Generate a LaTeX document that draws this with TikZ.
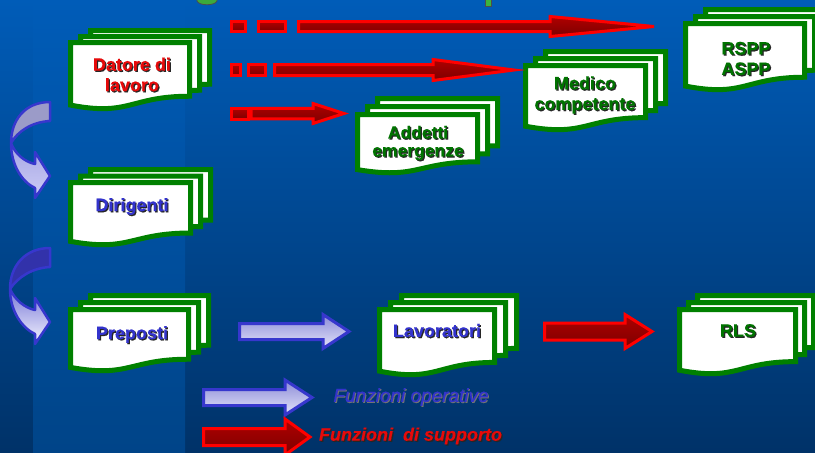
\documentclass[tikz,border=0pt]{standalone}
\usepackage{fontspec}
\setmainfont{Liberation Sans}[BoldFeatures={FakeBold=0.5}, BoldItalicFeatures={FakeBold=0.4}]
\newfontfamily\legfont{Liberation Sans}[ItalicFeatures={FakeBold=0.7}]
\usetikzlibrary{calc}
\definecolor{docgreen}{RGB}{0,128,0}
\definecolor{txtgreen}{RGB}{0,115,0}
\definecolor{txtred}{RGB}{230,10,10}
\definecolor{txtblue}{RGB}{51,51,204}
\definecolor{bgtop}{RGB}{0,92,184}
\definecolor{bgbot}{RGB}{0,50,104}
\definecolor{bandbot}{RGB}{0,68,136}
\definecolor{arrred}{RGB}{255,0,0}
\definecolor{redfilltop}{RGB}{175,0,0}
\definecolor{redfillbot}{RGB}{125,0,0}
\definecolor{arrblue}{RGB}{55,55,205}
\definecolor{bluefilltop}{RGB}{140,140,215}
\definecolor{bluefillbot}{RGB}{228,228,250}
\tikzset{
  x=1pt, y=-1pt,
  docpage/.style={draw=docgreen, line width=5pt, fill=white, line join=miter},
  docname/.style={font=\bfseries\fontsize{18}{20.5}\selectfont, align=center, inner sep=0pt},
  redarrow/.style={draw=arrred, line width=3pt, top color=redfilltop, bottom color=redfillbot, line join=miter},
  bluearrow/.style={draw=arrblue, line width=3pt, top color=bluefilltop, bottom color=bluefillbot, line join=miter},
  curvedge/.style={draw=arrblue, line width=2.5pt, line join=round},
}
% multi-document: #1 x, #2 y (outer top-left of front page), #3 w, #4 h, #5 dx, #6 dy
\newcommand{\mdoc}[6]{%
  \foreach \k in {2,1,0}{%
    \pgfmathsetmacro\px{#1+\k*#5+2.5}%
    \pgfmathsetmacro\py{#2-\k*#6+2.5}%
    \pgfmathsetmacro\pw{#3-5}%
    \pgfmathsetmacro\ph{#4-5}%
    \draw[docpage] (\px,\py) -- ({\px+\pw},\py) -- ({\px+\pw},{\py+0.802*\ph})
      .. controls ({\px+0.5*\pw},{\py+0.802*\ph}) and ({\px+0.5*\pw},{\py+1.1075*\ph}) .. (\px,{\py+0.934*\ph}) -- cycle;
  }}
% label with shadow: #1 name, #2 x, #3 y, #4 style, #5 text
\newcommand{\shlabel}[5]{%
  \node[#4, text=black!85] at ({#2+1.2},{#3+1.2}) {#5};
  \node[#4] (#1) at (#2,#3) {#5};}
% block arrow: #1 style, #2 x start, #3 x head base, #4 x tip, #5 y centre, #6 body half, #7 head half
\newcommand{\blockarrow}[7]{%
  \draw[#1] (#2,{#5-#6}) -- (#3,{#5-#6}) -- (#3,{#5-#7}) -- (#4,#5) -- (#3,{#5+#7}) -- (#3,{#5+#6}) -- (#2,{#5+#6}) -- cycle;}
\begin{document}
\begin{tikzpicture}
\useasboundingbox (0,0) rectangle (815,453);
\clip (0,0) rectangle (815,453);
% background
\fill[top color=bgtop, bottom color=bgbot] (0,0) rectangle (815,453);
\fill[top color=bgtop, bottom color=bandbot] (33,0) rectangle (185,453);
% title fragments
\draw[fill={rgb,255:red,60;green,170;blue,60}, draw=black!70, line width=0.8pt] (197,-2) -- (197,1) .. controls (199,6) and (215,6) .. (217,1) -- (217,-2);
\draw[fill={rgb,255:red,60;green,180;blue,60}, draw=black!70, line width=0.8pt] (485,-2) rectangle (491,6);

% documents
\mdoc{68}{40}{124}{72}{10}{6}
\mdoc{523}{63}{125}{70}{10}{7}
\mdoc{683}{21}{124}{72}{10}{7}
\mdoc{355}{112}{125}{64}{10}{8}
\mdoc{68}{180}{125}{68}{10}{6.5}
\mdoc{68}{307}{123}{67}{10}{7}
\mdoc{377}{307}{120}{71}{11}{7}
\mdoc{677}{307}{121}{70}{9}{7}

% labels
\shlabel{datore}{132}{74.5}{docname, text=txtred}{Datore di\\lavoro}
\shlabel{medico}{585}{95}{docname, text=txtgreen}{Medico\\competente}
\shlabel{rspp}{746}{58.5}{docname, text=txtgreen}{RSPP\\ASPP}
\shlabel{addetti}{418}{143}{docname, font=\bfseries\fontsize{17.5}{18}\selectfont, text=txtgreen}{Addetti\\emergenze}
\shlabel{dirigenti}{132}{206.5}{docname, text=txtblue}{Dirigenti}
\shlabel{preposti}{132}{334.5}{docname, text=txtblue}{Preposti}
\shlabel{lavoratori}{437}{330.5}{docname, text=txtblue}{Lavoratori}
\shlabel{rls}{738}{330.5}{docname, text=txtgreen}{RLS}

% red dashed arrows (support functions)
\draw[redarrow] (231.5,21.5) rectangle (245.5,31.5);
\draw[redarrow] (258.5,21.5) rectangle (285.5,31.5);
\blockarrow{redarrow}{298.5}{550}{654}{26.5}{5}{10}
\draw[redarrow] (231.5,64.5) rectangle (240.5,75.5);
\draw[redarrow] (248.5,64.5) rectangle (265.5,75.5);
\blockarrow{redarrow}{274.5}{433}{514}{70}{5.5}{10.5}
\draw[redarrow] (231.5,108.5) rectangle (248,119);
\blockarrow{redarrow}{251}{313}{344}{113.5}{5.25}{10}

% horizontal arrows
\blockarrow{bluearrow}{239.5}{323}{349}{331.5}{8}{17}
\blockarrow{redarrow}{544.5}{625}{652}{331.5}{8.5}{17}

% curved arrows
\begin{scope}
\draw[curvedge, fill={rgb,255:red,155;green,155;blue,200}] (50,102) .. controls (25,102) and (11,120) .. (11,143) .. controls (18,131) and (32,122) .. (50,121) -- cycle;
\draw[curvedge, top color={rgb,255:red,165;green,165;blue,228}, bottom color={rgb,255:red,205;green,205;blue,245}] (11,143) .. controls (11,165) and (22,182) .. (35,188) -- (35,198) -- (50,176) -- (35,152) -- (35,164) .. controls (25,162) and (15,154) .. (11,143) -- cycle;
\end{scope}
\begin{scope}[yshift=-146pt]
\draw[curvedge, fill={rgb,255:red,50;green,50;blue,170}] (50,102) .. controls (25,102) and (10,120) .. (10,143) .. controls (18,131) and (32,122) .. (50,121) -- cycle;
\draw[curvedge, top color={rgb,255:red,120;green,120;blue,215}, bottom color={rgb,255:red,245;green,245;blue,255}] (10,143) .. controls (10,165) and (22,182) .. (35,188) -- (35,198) -- (50,176) -- (35,152) -- (35,164) .. controls (25,162) and (15,154) .. (10,143) -- cycle;
\end{scope}

% legend
\blockarrow{bluearrow}{203.5}{285}{312}{397.5}{8}{17.5}
\node[font=\legfont\itshape\fontsize{19}{21}\selectfont, text=black!55, inner sep=0pt] at (412,398) {Funzioni operative};
\node[font=\legfont\itshape\fontsize{19}{21}\selectfont, text=txtblue, inner sep=0pt] (legop) at (411,397) {Funzioni operative};
\blockarrow{redarrow}{203.5}{285}{310}{437}{8.5}{18}
\shlabel{legsup}{410.5}{436}{font=\bfseries\itshape\fontsize{18}{20}\selectfont, inner sep=0pt, text=txtred}{Funzioni~~di supporto}
\end{tikzpicture}
\end{document}
